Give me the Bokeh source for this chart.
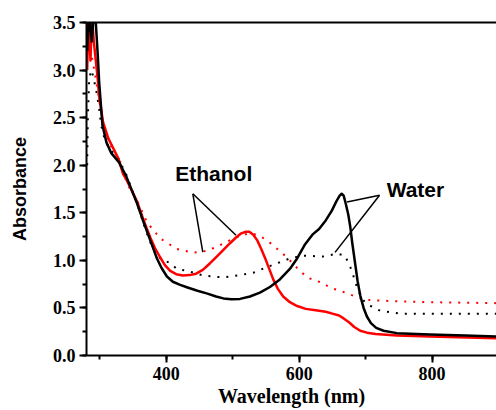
from bokeh.plotting import figure
from bokeh.models import (Range1d, LinearAxis, SingleIntervalTicker, PrintfTickFormatter,
                          Label, FixedTicker)
from bokeh.embed import file_html
from bokeh.resources import INLINE

# ---- data ----
water_solid_x = [281, 284, 288, 291, 294, 297, 299, 304, 310, 317, 329, 340, 356, 366, 376, 386, 393,
                 401, 410, 420, 432, 447, 462, 475, 486, 498, 511, 526, 541, 556, 571, 586, 597,
                 609, 620, 630, 640, 649, 656, 661, 664, 667, 670, 674, 677, 680, 684, 688, 692,
                 697, 702, 708, 716, 727, 747, 797, 850, 900]
water_solid_y = [3.2, 3.6, 3.3, 3.6, 3.5, 3.15, 2.88, 2.42, 2.24, 2.13, 2.03, 1.88, 1.60, 1.40, 1.21,
                 1.02, 0.92, 0.83, 0.775, 0.745, 0.715, 0.68, 0.65, 0.62, 0.60, 0.59, 0.595, 0.62,
                 0.66, 0.72, 0.80, 0.91, 1.02, 1.17, 1.27, 1.33, 1.42, 1.52, 1.62, 1.68, 1.70, 1.68,
                 1.60, 1.48, 1.35, 1.18, 0.98, 0.78, 0.63, 0.50, 0.41, 0.34, 0.29, 0.26, 0.235, 0.22,
                 0.21, 0.20]

water_dot_x = [281, 282, 284, 287, 290, 295, 299, 302, 307, 314, 328, 340, 356, 370, 380, 391, 406, 416,
               431, 456, 486, 507, 531, 552, 571, 586, 606, 636, 657, 669, 677, 681, 687, 694, 702,
               722, 752, 800, 900]
water_dot_y = [2.0, 2.5, 2.9, 3.0, 2.94, 2.77, 2.60, 2.42, 2.28, 2.18, 2.07, 1.90, 1.60, 1.30, 1.12,
               1.02, 0.97, 0.91, 0.89, 0.84, 0.82, 0.84, 0.87, 0.93, 0.98, 1.02, 1.05, 1.04, 1.07,
               1.05, 0.93, 0.85, 0.72, 0.60, 0.54, 0.47, 0.44, 0.44, 0.44]

ethanol_solid_x = [281, 283, 286, 288, 291, 294, 297, 299, 305, 313, 328, 335, 340, 356, 366, 376, 383,
                   391, 398, 406, 415, 425, 435, 445, 455, 466, 476, 486, 496, 505, 512, 519, 525,
                   531, 537, 543, 549, 555, 561, 568, 576, 586, 597, 610, 625, 640, 650, 660, 667,
                   675, 683, 692, 702, 715, 747, 797, 900]
ethanol_solid_y = [3.0, 3.6, 3.1, 3.6, 3.3, 3.1, 2.9, 2.72, 2.45, 2.28, 2.07, 1.91, 1.85, 1.62, 1.42,
                   1.24, 1.13, 1.03, 0.95, 0.89, 0.855, 0.84, 0.845, 0.86, 0.90, 0.97, 1.04, 1.11,
                   1.18, 1.24, 1.28, 1.30, 1.30, 1.27, 1.21, 1.12, 1.02, 0.91, 0.80, 0.70, 0.62, 0.56,
                   0.52, 0.49, 0.475, 0.46, 0.44, 0.42, 0.39, 0.35, 0.30, 0.26, 0.24, 0.225, 0.21,
                   0.20, 0.18]

ethanol_dot_x = [283, 287, 293, 300, 308, 318, 330, 341, 358, 371, 391, 416, 441, 462, 481, 501, 522,
                 537, 552, 567, 582, 597, 612, 636, 647, 662, 677, 696, 711, 747, 797, 900]
ethanol_dot_y = [3.6, 3.18, 2.95, 2.65, 2.35, 2.18, 2.05, 1.81, 1.60, 1.40, 1.23, 1.12, 1.08, 1.10,
                 1.16, 1.23, 1.28, 1.27, 1.21, 1.12, 1.03, 0.92, 0.82, 0.76, 0.71, 0.68, 0.64, 0.59,
                 0.58, 0.57, 0.56, 0.55]

# annotation pointer lines (apex -> curve)
eth_apex = (440, 1.70)
eth_ends_x = [455, 505]
eth_ends_y = [1.087, 1.263]
wat_apex = (721, 1.684)
wat_ends_x = [672, 654]
wat_ends_y = [1.614, 1.084]
eth_text_pos = (471.5, 1.916)
wat_text_pos = (775, 1.75)

p = figure(width=496, height=410, output_backend="svg", toolbar_location=None,
           x_range=Range1d(280, 897), y_range=Range1d(0, 3.5),
           min_border_left=86, min_border_right=0, min_border_top=22, min_border_bottom=55,
           x_axis_type=None, y_axis_type=None)
p.outline_line_color = None
p.xgrid.visible = False
p.ygrid.visible = False
p.background_fill_color = "white"

tick_font = "Liberation Serif"

xaxis = LinearAxis(ticker=SingleIntervalTicker(interval=200, num_minor_ticks=2),
                   axis_label="Wavelength (nm)")
yaxis = LinearAxis(ticker=SingleIntervalTicker(interval=0.5, num_minor_ticks=2),
                   formatter=PrintfTickFormatter(format="%.1f"),
                   axis_label="Absorbance")
for ax in (xaxis, yaxis):
    ax.axis_line_width = 2
    ax.axis_line_color = "black"
    ax.major_tick_line_width = 2
    ax.minor_tick_line_width = 2
    ax.major_tick_out = 7
    ax.major_tick_in = 0
    ax.minor_tick_out = 4
    ax.minor_tick_in = 0
    ax.major_label_text_font = tick_font
    ax.major_label_text_font_style = "bold"
    ax.major_label_text_font_size = "18px"
    ax.major_label_text_color = "black"
    ax.axis_label_text_color = "black"
    ax.axis_label_text_font_style = "bold"
xaxis.major_label_standoff = 4
yaxis.major_label_standoff = 4
yaxis.axis_label_text_font = "Liberation Sans"
yaxis.axis_label_text_font_size = "18px"
yaxis.axis_label_standoff = 20
xaxis.axis_label_text_font = tick_font
xaxis.axis_label_text_font_size = "20px"
xaxis.axis_label_standoff = 2
p.add_layout(xaxis, "below")
p.add_layout(yaxis, "left")

top = LinearAxis(ticker=FixedTicker(ticks=[]))
top.axis_line_width = 2
top.axis_line_color = "black"
top.major_tick_line_color = None
top.minor_tick_line_color = None
top.major_label_standoff = 0
p.add_layout(top, "above")

# curves
p.line(ethanol_dot_x, ethanol_dot_y, line_color="red", line_width=2, line_dash="2 7")
p.line(water_dot_x, water_dot_y, line_color="black", line_width=2, line_dash="2 7")
p.line(ethanol_solid_x, ethanol_solid_y, line_color="red", line_width=2.5, line_join="round")
p.line(water_solid_x, water_solid_y, line_color="black", line_width=2.5, line_join="round")

# pointer lines
p.segment(x0=[eth_apex[0]] * 2, y0=[eth_apex[1]] * 2, x1=eth_ends_x, y1=eth_ends_y,
          line_color="black", line_width=1.5)
p.segment(x0=[wat_apex[0]] * 2, y0=[wat_apex[1]] * 2, x1=wat_ends_x, y1=wat_ends_y,
          line_color="black", line_width=1.5)

for txt, pos in (("Ethanol", eth_text_pos), ("Water", wat_text_pos)):
    p.add_layout(Label(x=pos[0], y=pos[1], text=txt, text_font="Liberation Sans",
                       text_font_style="bold", text_font_size="21px",
                       text_align="center", text_baseline="middle", text_color="black"))

open("out.html", "w").write(file_html(p, INLINE))
